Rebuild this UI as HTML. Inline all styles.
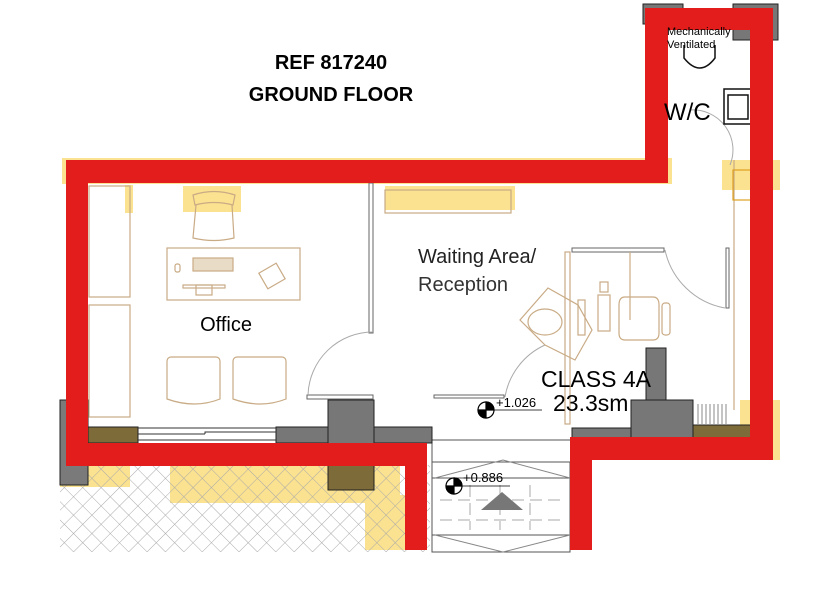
<!DOCTYPE html>
<html><head><meta charset="utf-8"><style>
html,body{margin:0;padding:0;background:#fff;width:821px;height:611px;overflow:hidden}
svg{display:block}
text{font-family:"Liberation Sans",sans-serif}
</style></head><body>
<svg width="821" height="611" viewBox="0 0 821 611" xmlns="http://www.w3.org/2000/svg">
<defs>
<pattern id="hatch" width="13" height="13" patternUnits="userSpaceOnUse" patternTransform="rotate(45)">
<rect width="13" height="13" fill="none"/>
<path d="M0 0H13M0 0V13" stroke="#aaa" stroke-width="1"/>
</pattern>
</defs>
<!-- yellow highlights -->
<g fill="#fbe290">
<rect x="62" y="158" width="610" height="26"/>
<rect x="125" y="185" width="8" height="28"/>
<rect x="183" y="186" width="58" height="26"/>
<rect x="385" y="186" width="130" height="24"/>
<rect x="722" y="160" width="58" height="30"/>
<rect x="740" y="400" width="40" height="60"/>
<rect x="170" y="465" width="230" height="38"/>
<rect x="365" y="495" width="40" height="55"/>
<rect x="60" y="465" width="70" height="22"/>
</g>
<!-- hatch ground -->
<rect x="60" y="465" width="370" height="87" fill="url(#hatch)"/>
<!-- stairs -->
<g stroke="#555" fill="none" stroke-width="1">
<rect x="432" y="462" width="138" height="90"/>
<line x1="432" y1="478" x2="570" y2="478"/>
<line x1="432" y1="535" x2="570" y2="535"/>
<path d="M435 478 L503 460 L570 478 M435 535 L503 552 L570 535" stroke="#888"/>
<path d="M440 500H565M440 520H565M470 485V530M500 485V530M530 485V530" stroke="#aaa" stroke-dasharray="12 6"/>
<line x1="432" y1="440" x2="570" y2="440"/>
<line x1="432" y1="462" x2="432" y2="440"/>
</g>
<polygon points="481,510 502,492 523,510" fill="#777"/>
<!-- walls gray/olive -->
<g stroke="#222" stroke-width="1">
<rect x="60" y="400" width="28" height="85" fill="#7a7a7a"/>
<rect x="88" y="427" width="50" height="16" fill="#7d6b3a"/>
<rect x="276" y="427" width="52" height="16" fill="#777"/>
<rect x="328" y="400" width="46" height="45" fill="#777"/>
<rect x="374" y="427" width="58" height="16" fill="#777"/>
<rect x="328" y="465" width="46" height="25" fill="#7d6b3a"/>
<rect x="572" y="428" width="60" height="12" fill="#777"/>
<rect x="631" y="400" width="62" height="40" fill="#777"/>
<rect x="646" y="348" width="20" height="52" fill="#777"/>
<rect x="693" y="425" width="60" height="15" fill="#7d6b3a"/>
<rect x="643" y="4" width="40" height="20" fill="#777"/>
<rect x="733" y="4" width="45" height="36" fill="#777"/>
</g>
<!-- window office bottom -->
<g stroke="#333" fill="none">
<path d="M138 428H276M138 440H276M138 434H205M205 434V432H276"/>
</g>
<!-- interior walls -->
<g stroke="#666" fill="none" stroke-width="1">
<rect x="369" y="183" width="4" height="150" fill="#fff"/>
<rect x="307" y="395" width="66" height="4"/>
<path d="M308 395 A65 65 0 0 1 373 332" stroke="#aaa"/>
<rect x="434" y="395" width="70" height="3"/>
<path d="M505 397 A70 70 0 0 1 545 345" stroke="#aaa"/>
<rect x="572" y="248" width="92" height="4"/>
<path d="M665 250 A75 75 0 0 0 725 308" stroke="#aaa"/>
<rect x="726" y="248" width="3" height="60"/>
<path d="M690 110 A40 40 0 0 1 730 165" stroke="#aaa"/>
</g>
<g stroke="#c9ab85" fill="none" stroke-width="1.2">
<line x1="734" y1="160" x2="734" y2="410"/>
<rect x="733" y="170" width="20" height="30" stroke="#e0a020"/>
<rect x="565" y="252" width="5" height="172"/>
<line x1="630" y1="252" x2="630" y2="320"/>
<rect x="89" y="186" width="41" height="111"/>
<rect x="89" y="305" width="41" height="112"/>
<rect x="167" y="248" width="133" height="52"/>
<rect x="193" y="258" width="40" height="13" fill="#e9dcc6"/>
<rect x="183" y="285" width="42" height="3"/>
<rect x="196" y="285" width="16" height="10"/>
<rect x="175" y="264" width="5" height="8" rx="2"/>
<rect x="262" y="267" width="20" height="18" transform="rotate(-30 272 276)"/>
<path d="M193 195 Q214 188 235 195 L233 205 Q214 200 195 205Z"/>
<path d="M196 205 L193 238 Q214 243 234 238 L232 205"/>
<path d="M171 357 h45 a4 4 0 0 1 4 4 v38 q-25 10 -53 0 v-38 a4 4 0 0 1 4 -4Z"/>
<path d="M237 357 h45 a4 4 0 0 1 4 4 v38 q-25 10 -53 0 v-38 a4 4 0 0 1 4 -4Z"/>
<rect x="385" y="190" width="126" height="23"/>
<path d="M548 288 L578 305 L592 330 L575 360 L545 345 L520 320Z"/>
<ellipse cx="545" cy="322" rx="17" ry="13"/>
<rect x="578" y="300" width="7" height="35"/>
<rect x="598" y="295" width="12" height="36"/>
<rect x="600" y="282" width="8" height="10"/>
<path d="M625 297 h28 q6 0 6 8 v28 q0 7 -6 7 h-28 q-6 0 -6 -7 v-28 q0 -8 6 -8Z"/>
<rect x="662" y="303" width="8" height="32" rx="3"/>
</g>
<g stroke="#111" fill="none" stroke-width="1.5">
<path d="M684 45 V58 Q700 78 715 58 V45"/>
<rect x="724" y="89" width="28" height="35"/>
<rect x="728" y="95" width="20" height="24"/>
</g>
<g stroke="#888" stroke-width="1"><path d="M698 404V424M702 404V424M706 404V424M710 404V424M714 404V424M718 404V424M722 404V424M726 404V424"/></g>
<g stroke="#000" stroke-width="1.2">
<circle cx="486" cy="410" r="8" fill="#fff"/>
<path d="M486 402 A8 8 0 0 1 494 410 L486 410Z M486 418 A8 8 0 0 1 478 410 L486 410Z" fill="#000"/>
<line x1="494" y1="410" x2="542" y2="410" stroke-width="0.8"/>
<circle cx="454" cy="486" r="8" fill="#fff"/>
<path d="M454 478 A8 8 0 0 1 462 486 L454 486Z M454 494 A8 8 0 0 1 446 486 L454 486Z" fill="#000"/>
<line x1="462" y1="486" x2="510" y2="486" stroke-width="0.8"/>
</g>
<g fill="#e31c1c">
<rect x="66" y="160" width="22" height="306"/>
<rect x="66" y="160" width="602" height="23"/>
<rect x="645" y="8" width="23" height="175"/>
<rect x="645" y="8" width="128" height="22"/>
<rect x="750" y="8" width="23" height="452"/>
<rect x="570" y="437" width="203" height="23"/>
<rect x="570" y="437" width="22" height="113"/>
<rect x="66" y="443" width="361" height="23"/>
<rect x="405" y="443" width="22" height="107"/>
</g>
<text x="331" y="69" font-size="20" font-weight="bold" text-anchor="middle">REF 817240</text>
<text x="331" y="101" font-size="20" font-weight="bold" text-anchor="middle">GROUND FLOOR</text>
<text x="226" y="331" font-size="20" text-anchor="middle">Office</text>
<text x="418" y="263" font-size="20" fill="#222">Waiting Area/</text>
<text x="418" y="291" font-size="20" fill="#333">Reception</text>
<text x="541" y="387" font-size="23">CLASS 4A</text>
<text x="553" y="411" font-size="23">23.3sm</text>
<text x="664" y="120" font-size="24">W/C</text>
<text x="667" y="35" font-size="11">Mechanically</text>
<text x="667" y="48" font-size="11">Ventilated</text>
<text x="496" y="407" font-size="13">+1.026</text>
<text x="463" y="482" font-size="13">+0.886</text>
</svg>
</body></html>
